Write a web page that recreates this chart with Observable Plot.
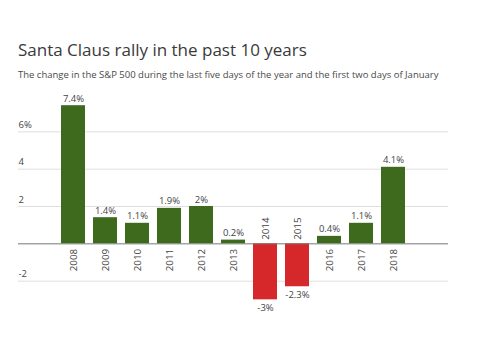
<!DOCTYPE html>
<html>
<head>
<meta charset="utf-8">
<script src="https://cdn.jsdelivr.net/npm/d3@7"></script>
<script src="https://cdn.jsdelivr.net/npm/@observablehq/plot@0.6"></script>
<style>
  html, body { margin: 0; padding: 0; background: #fff; }
  body { width: 500px; height: 362px; position: relative; overflow: hidden; font-family: "Open Sans", sans-serif; }
  #title { position: absolute; left: 18px; top: 38px; font-size: 17px; color: #3a3a3a; white-space: nowrap; }
  #subtitle { position: absolute; left: 18px; top: 68px; font-size: 9.5px; color: #4a4a4a; white-space: nowrap; }
  #chart { position: absolute; left: 0; top: 85px; }
</style>
</head>
<body>
<div id="title">Santa Claus rally in the past 10 years</div>
<div id="subtitle">The change in the S&amp;P 500 during the last five days of the year and the first two days of January</div>
<div id="chart"></div>
<script>
const years = ["2008","2009","2010","2011","2012","2013","2014","2015","2016","2017","2018"];
const values = [7.4, 1.4, 1.1, 1.9, 2.0, 0.2, -3.0, -2.3, 0.4, 1.1, 4.1];
const valueLabels = ["7.4%","1.4%","1.1%","1.9%","2%","0.2%","-3%","-2.3%","0.4%","1.1%","4.1%"];
const gridValues = [-2, 2, 4, 6];
const tickLabels = ["-2", "2", "4", "6%"];

const green = "#3e6a1d";
const red = "#d6272a";

const data = years.map((year, i) => ({year, value: values[i], label: valueLabels[i]}));
const pos = data.filter(d => d.value >= 0);
const neg = data.filter(d => d.value < 0);
const ticks = gridValues.map((v, i) => ({v, label: tickLabels[i]}));

const chart = Plot.plot({
  width: 500,
  height: 240,
  marginLeft: 18,
  marginRight: 52,
  marginTop: 9,
  marginBottom: 7,
  x: {domain: years, paddingInner: 0.25, paddingOuter: 1.3, axis: null},
  y: {domain: [-4, 8], axis: null},
  style: {fontFamily: "Open Sans, sans-serif", background: "#fff"},
  marks: [
    Plot.ruleY(gridValues, {stroke: "#dedede", strokeWidth: 1}),
    Plot.text(ticks, {y: "v", text: "label", frameAnchor: "left", textAnchor: "start", dy: -7, fontSize: 9.5, fill: "#444"}),
    Plot.barY(data, {x: "year", y: "value", fill: d => d.value >= 0 ? green : red}),
    Plot.ruleY([0], {stroke: "#777", strokeWidth: 1}),
    Plot.text(pos, {x: "year", y: "value", text: "label", dy: -7, fontSize: 9.5, fill: "#444"}),
    Plot.text(neg, {x: "year", y: "value", text: "label", dy: 8, fontSize: 9.5, fill: "#444"}),
    Plot.text(pos, {x: "year", y: () => 0, text: "year", rotate: -90, textAnchor: "end", dy: 5, fontSize: 9.8, fill: "#444"}),
    Plot.text(neg, {x: "year", y: () => 0, text: "year", rotate: -90, textAnchor: "start", dy: -4, fontSize: 9.8, fill: "#444"})
  ]
});
document.getElementById("chart").appendChild(chart);
</script>
</body>
</html>
